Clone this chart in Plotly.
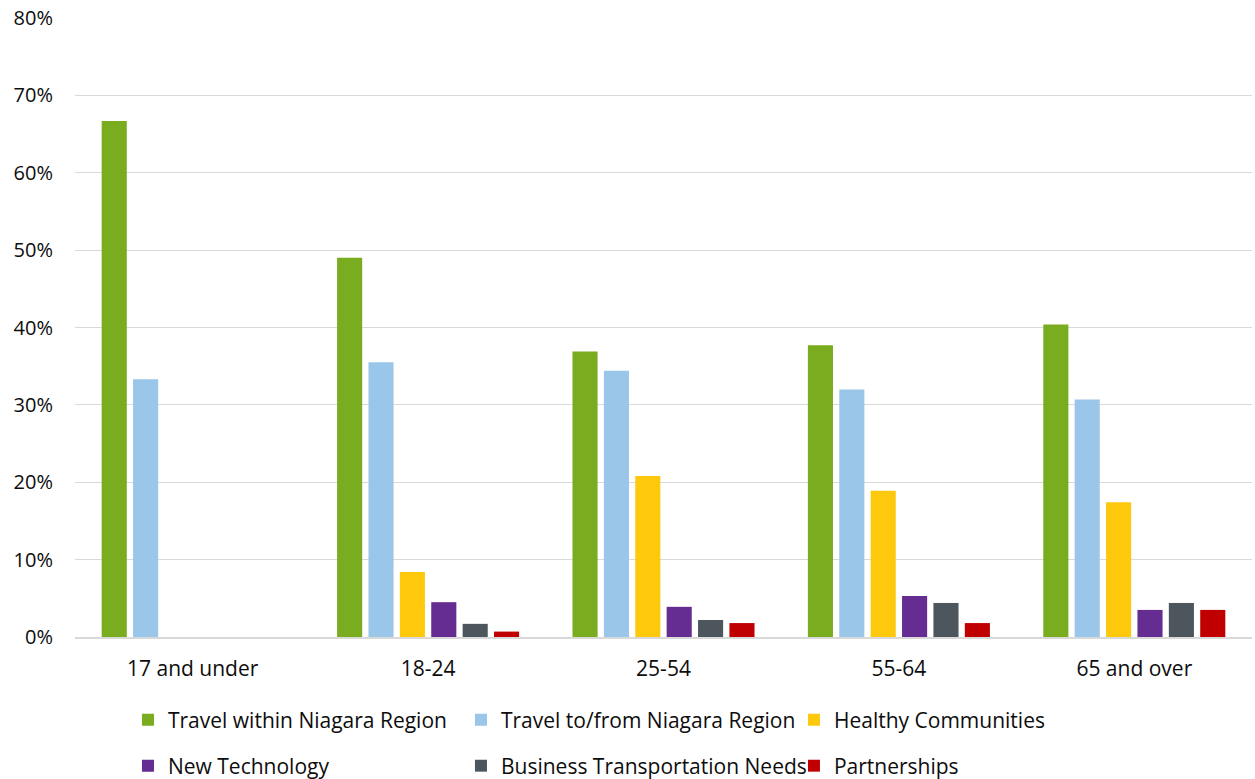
import plotly.graph_objects as go

# Age groups on the x axis
age_groups = ["17 and under", "18-24", "25-54", "55-64", "65 and over"]

# Share of respondents (%) choosing each priority, per age group
travel_within = [66.7, 49.0, 36.9, 37.7, 40.4]
travel_to_from = [33.3, 35.5, 34.4, 32.0, 30.7]
healthy_communities = [None, 8.4, 20.8, 18.9, 17.4]
new_technology = [None, 4.5, 3.9, 5.3, 3.5]
business_transport = [None, 1.7, 2.2, 4.4, 4.4]
partnerships = [None, 0.7, 1.8, 1.8, 3.5]

y_ticks = [0, 10, 20, 30, 40, 50, 60, 70, 80]
y_tick_labels = [f"{v}%" for v in y_ticks]

series = [
    ("Travel within Niagara Region", travel_within, "#7AAC1F", "legend"),
    ("Travel to/from Niagara Region", travel_to_from, "#9AC6EA", "legend"),
    ("Healthy Communities", healthy_communities, "#FEC90D", "legend"),
    ("New Technology", new_technology, "#652D91", "legend2"),
    ("Business Transportation Needs", business_transport, "#4C565C", "legend2"),
    ("Partnerships", partnerships, "#C00000", "legend2"),
]

FONT = "Open Sans, Liberation Sans, sans-serif"
TEXT = "#0d0d0d"

fig = go.Figure()
for name, values, color, leg in series:
    fig.add_trace(go.Bar(
        name=name,
        x=age_groups,
        y=values,
        marker=dict(color=color, line=dict(width=0)),
        legend=leg,
    ))

legend_common = dict(
    orientation="h",
    xref="paper",
    yref="container",
    xanchor="left",
    yanchor="middle",
    x=0.045,
    entrywidth=288,
    entrywidthmode="pixels",
    font=dict(family=FONT, size=21, color=TEXT),
    bgcolor="rgba(0,0,0,0)",
    borderwidth=0,
    itemclick=False,
)

fig.update_layout(
    width=1255,
    height=779,
    margin=dict(l=75, r=3, t=18, b=142),
    paper_bgcolor="white",
    plot_bgcolor="white",
    barmode="group",
    bargap=0.2,
    bargroupgap=0.2,
    font=dict(family=FONT, size=21, color=TEXT),
    showlegend=True,
    legend=dict(**legend_common, y=1 - 720 / 779),
    legend2=dict(**legend_common, y=1 - 766 / 779),
    xaxis=dict(
        showgrid=False,
        showline=True,
        linecolor="#D9D9D9",
        linewidth=1.5,
        ticks="",
        ticklabelstandoff=12,
        tickfont=dict(family=FONT, size=21, color=TEXT),
    ),
    yaxis=dict(
        range=[0, 80],
        tickvals=y_ticks,
        ticktext=y_tick_labels,
        showgrid=True,
        gridcolor="#D9D9D9",
        gridwidth=1.3,
        zeroline=False,
        ticks="",
        ticklabelstandoff=21,
        tickfont=dict(family=FONT, size=20, color=TEXT),
    ),
)

fig.write_html("out.html")
